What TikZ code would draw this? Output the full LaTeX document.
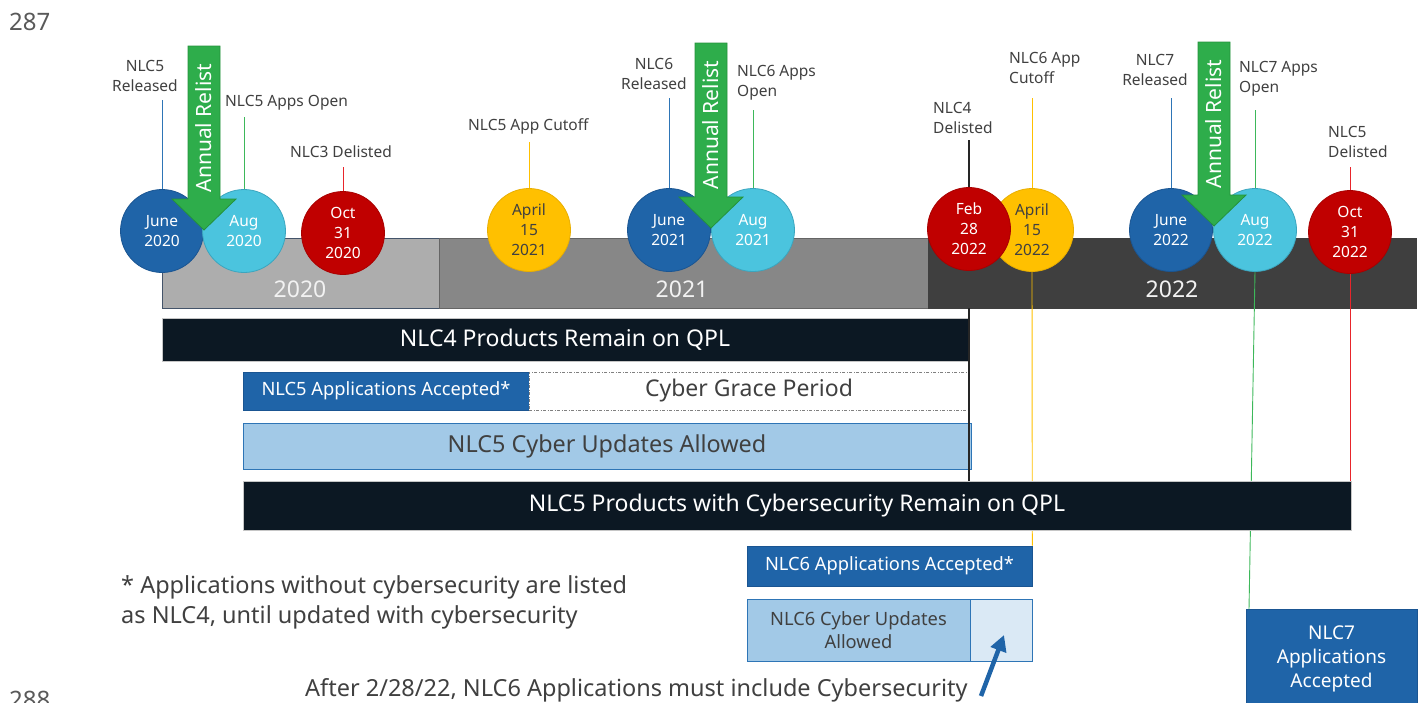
\documentclass[tikz,border=0pt]{standalone}
\usepackage{fontspec}
\setmainfont{Noto Sans}
\usetikzlibrary{arrows.meta}
\definecolor{dblue}{HTML}{1F64A8}
\definecolor{dblueedge}{HTML}{1A5592}
\definecolor{cyanc}{HTML}{4BC4DE}
\definecolor{cyanedge}{HTML}{3BA5BE}
\definecolor{redc}{HTML}{C00000}
\definecolor{rededge}{HTML}{A80000}
\definecolor{yelc}{HTML}{FFC000}
\definecolor{yeledge}{HTML}{E8AE00}
\definecolor{greenf}{HTML}{2EAD4B}
\definecolor{greend}{HTML}{24913C}
\definecolor{navy}{HTML}{0C1823}
\definecolor{lblue}{HTML}{A2C9E7}
\definecolor{lbedge}{HTML}{2E75B6}
\definecolor{vlblue}{HTML}{DAE9F5}
\definecolor{txtgray}{HTML}{404040}
\definecolor{pggray}{HTML}{595959}
\definecolor{yrA}{HTML}{ADADAD}
\definecolor{yrB}{HTML}{878787}
\definecolor{yrC}{HTML}{3F3F3F}
\definecolor{slate}{HTML}{44546A}
\definecolor{stblue}{HTML}{2E75B6}
\definecolor{stgreen}{HTML}{3DB85A}
\definecolor{stred}{HTML}{E8252B}
\definecolor{styel}{HTML}{FFC000}
\newcommand\lblsz{\fontsize{15.5}{20}\selectfont}
\newcommand\barsz{\fontsize{23}{28}\selectfont}
\newcommand\boxsz{\fontsize{18.3}{23}\selectfont}
\newcommand\relistarrow[3]{%
  \fill[greenf, draw=greend, line width=0.8pt] (#1-16,#2) -- (#1+16,#2) -- (#1+16,#3-31) -- (#1+32,#3-31) -- (#1,#3) -- (#1-32,#3-31) -- (#1-16,#3-31) -- cycle;}
\begin{document}
\begin{tikzpicture}[x=1pt,y=-1pt,
  lbl/.style={font=\lblsz, text=txtgray, inner sep=0pt},
  evt/.style={circle, minimum size=83pt, inner sep=0pt, font=\lblsz, align=center, text=white, line width=0.8pt},
  yearbar/.style={rectangle, inner sep=0pt, minimum height=70pt, line width=0.8pt},
  yeartxt/.style={font=\barsz, text=white!95!black, inner sep=0pt},
  navybar/.style={rectangle, fill=navy, draw=gray!45, line width=0.6pt, inner sep=0pt, text=white, font=\barsz},
  appbox/.style={rectangle, fill=dblue, draw=dblueedge, line width=0.6pt, inner sep=0pt, text=white, font=\boxsz},
  updbox/.style={rectangle, fill=lblue, draw=lbedge, line width=0.8pt, inner sep=0pt, text=txtgray},
  stem/.style={line width=0.9pt},
  relisttxt/.style={rotate=90, font=\fontsize{21}{25}\selectfont, text=white, inner sep=0pt}
]
\useasboundingbox (0,0) rectangle (1424,702);
\clip (0,0) rectangle (1424,702);

% page numbers
\node[anchor=base west, font=\fontsize{24}{28}\selectfont, text=pggray, inner sep=0pt] (pg287) at (9,30) {287};
\node[anchor=base west, font=\fontsize{24}{28}\selectfont, text=pggray, inner sep=0pt] (pg288) at (9,708) {288};

% year bars
\node[yearbar, fill=yrA, draw=slate, minimum width=277pt] (y20) at (300.5,273) {};
\node[yearbar, fill=yrB, draw=yrC!80, minimum width=489pt] (y21) at (683.5,273) {};
\node[yearbar, fill=yrC, draw=yrC, minimum width=488pt] (y22) at (1172,273) {};
\node[yeartxt] (t20) at (300,289) {2020};
\node[yeartxt] (t21) at (682,289) {2021};
\node[yeartxt] (t22) at (1172,289) {2022};

% lower boxes
\node[navybar, minimum width=806pt, minimum height=43pt] (n4qpl) at (565,339.5) {NLC4 Products Remain on QPL};
\node[appbox, minimum width=286pt, minimum height=38pt] (n5acc) at (386,391) {NLC5 Applications Accepted*};
\node[rectangle, draw=gray, dash pattern=on 3pt off 1.5pt on 1pt off 1.5pt, line width=0.8pt, fill=white,
      minimum width=440pt, minimum height=38pt, inner sep=0pt, font=\barsz, text=txtgray] (grace) at (749,391) {Cyber Grace Period};
\node[updbox, minimum width=728pt, minimum height=46pt, font=\fontsize{23.4}{28}\selectfont] (n5upd) at (607,446) {NLC5 Cyber Updates Allowed};

% stems below the timeline (behind boxes)
\node[evt, fill=yelc, draw=yeledge, text=txtgray] (capr22) at (1032,230) {April\\15\\2022};
\node[appbox, minimum width=285pt, minimum height=40pt] (n6acc) at (889.5,566) {NLC6 Applications Accepted*};
\node[appbox, minimum width=171pt, minimum height=100pt, align=center, font=\fontsize{19}{24}\selectfont] (n7acc) at (1331.5,659) {NLC7\\Applications\\Accepted};
\coordinate (g7end) at (1249,609);
\draw[stem, styel] (capr22.south) -- (n6acc.north east);
\draw[stem, stgreen] (1255,271) coordinate (g7start) -- (g7end);

\node[navybar, minimum width=1108pt, minimum height=49pt] (n5prod) at (797,506) {NLC5 Products with Cybersecurity Remain on QPL};
\draw[stem, stred] (1350,274) coordinate (r5start) -- (n5prod.north -| r5start);
\draw[line width=2pt, black!85] (969,308) coordinate (k4start) -- (n5prod.north -| k4start);

\node[updbox, minimum width=223pt, minimum height=62pt, align=center, font=\boxsz] (n6upd) at (858.5,630) {NLC6 Cyber Updates\\Allowed};
\node[rectangle, fill=vlblue, draw=lbedge, line width=0.8pt, minimum width=62pt, minimum height=62pt, inner sep=0pt] (n6late) at (1001,630) {};

% footnote and note
\node[anchor=west, align=left, font=\fontsize{23.5}{30}\selectfont, text=txtgray, inner sep=0pt] (foot) at (121,602)
  {* Applications without cybersecurity are listed\\as NLC4, until updated with cybersecurity};
\node[anchor=base west, font=\fontsize{23.5}{28}\selectfont, text=txtgray, inner sep=0pt] (after) at (305,696)
  {After 2/28/22, NLC6 Applications must include Cybersecurity};
\coordinate (arrtail) at (981,696);
\coordinate (arrtip) at (1004,635);
\draw[line width=4.5pt, dblue, -{Triangle[length=16pt,width=16pt]}] (arrtail) -- (arrtip);

% labels above
\node[lbl, align=center] (l5rel) at (145,76) {NLC5\\Released};
\node[lbl, anchor=west] (l5open) at (225,103) {NLC5 Apps Open};
\node[lbl, anchor=west] (l3del) at (290,152) {NLC3 Delisted};
\node[lbl, anchor=west] (l5cut) at (468,126) {NLC5 App Cutoff};
\node[lbl, align=center] (l6rel) at (654,74) {NLC6\\Released};
\node[lbl, anchor=west, align=left] (l6open) at (737,83) {NLC6 Apps\\Open};
\node[lbl, anchor=west, align=left] (l4del) at (933,118) {NLC4\\Delisted};
\node[lbl, anchor=west, align=left] (l6cut) at (1009,68) {NLC6 App\\Cutoff};
\node[lbl, align=center] (l7rel) at (1155,70) {NLC7\\Released};
\node[lbl, anchor=west, align=left] (l7open) at (1239,79) {NLC7 Apps\\Open};
\node[lbl, anchor=west, align=left] (l5del) at (1328,142) {NLC5\\Delisted};

% stem start points
\coordinate (s5rel) at (162,100);
\coordinate (s5open) at (244,117);
\coordinate (s3del) at (343,167);
\coordinate (s5cut) at (529,142);
\coordinate (s6rel) at (669,98);
\coordinate (s6open) at (753,110);
\coordinate (s4del) at (969,140);
\coordinate (s6cut) at (1032,98);
\coordinate (s7rel) at (1171,98);
\coordinate (s7open) at (1255,110);
\coordinate (s5del) at (1350,167);

% circles
\node[evt, fill=dblue, draw=dblueedge] (cjun20) at (162,231) {June\\2020};
\node[evt, fill=cyanc, draw=cyanedge] (caug20) at (244,231) {Aug\\2020};
\node[evt, fill=redc, draw=rededge] (coct20) at (343,233) {Oct\\31\\2020};
\node[evt, fill=yelc, draw=yeledge, text=txtgray] (capr21) at (529,230) {April\\15\\2021};
\node[evt, fill=dblue, draw=dblueedge] (cjun21) at (669,230) {June\\2021};
\node[evt, fill=cyanc, draw=cyanedge] (caug21) at (753,230) {Aug\\2021};
\node[evt, fill=redc, draw=rededge] (cfeb22) at (969,229) {Feb\\28\\2022};
\node[evt, fill=dblue, draw=dblueedge] (cjun22) at (1171,230) {June\\2022};
\node[evt, fill=cyanc, draw=cyanedge] (caug22) at (1255,230) {Aug\\2022};
\node[evt, fill=redc, draw=rededge] (coct22) at (1350,232) {Oct\\31\\2022};

% stems above
\draw[stem, stblue] (s5rel) -- (cjun20);
\draw[stem, stgreen] (s5open) -- (caug20);
\draw[stem, stred] (s3del) -- (coct20);
\draw[stem, styel] (s5cut) -- (capr21);
\draw[stem, stblue] (s6rel) -- (cjun21);
\draw[stem, stgreen] (s6open) -- (caug21);
\draw[line width=2pt, black!85] (s4del) -- (cfeb22);
\draw[stem, styel] (s6cut) -- (capr22);
\draw[stem, stblue] (s7rel) -- (cjun22);
\draw[stem, stgreen] (s7open) -- (caug22);
\draw[stem, stred] (s5del) -- (coct22);

% annual relist arrows
\relistarrow{204}{46}{230}
\node[relisttxt] (ar1) at (204,128) {Annual Relist};
\relistarrow{711}{43}{228}
\node[relisttxt] (ar2) at (711,125) {Annual Relist};
\relistarrow{1214}{42}{226}
\node[relisttxt] (ar3) at (1214,124) {Annual Relist};
\end{tikzpicture}
\end{document}
